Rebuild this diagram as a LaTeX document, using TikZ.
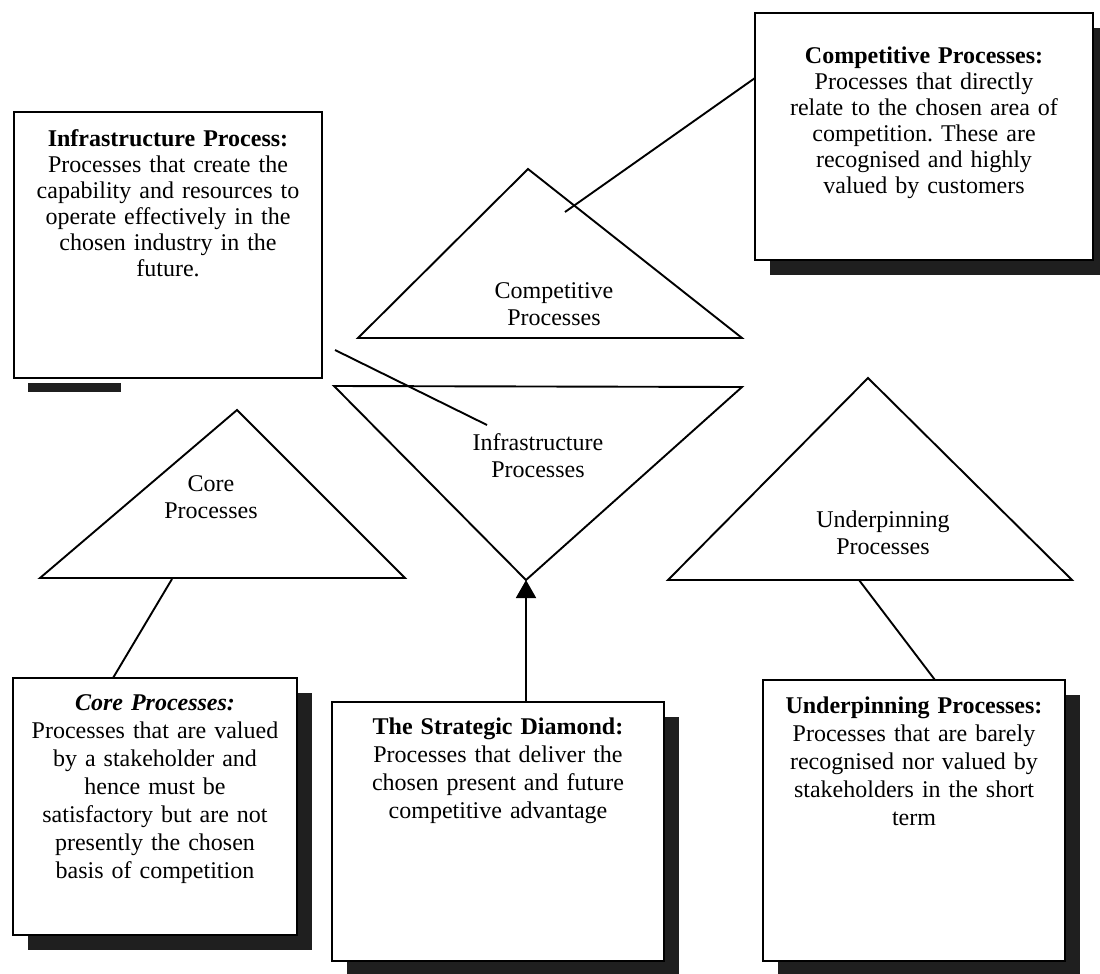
\documentclass[tikz,border=0pt]{standalone}
\usepackage{fontspec}
\setmainfont{Liberation Serif}
\usetikzlibrary{arrows.meta,shadows}
\frenchspacing

\tikzset{
  card/.style={draw=black, line width=1.7pt, fill=white, rectangle, inner sep=0pt,
    drop shadow={shadow xshift=15pt, shadow yshift=-15pt, fill=black!88, opacity=1}},
  plaincard/.style={draw=black, line width=1.7pt, fill=white, rectangle, inner sep=0pt},
  cardtext/.style={anchor=north, align=center, inner sep=0pt, text width=#1},
  toptext/.style={font=\fontsize{24}{26}\selectfont},
  lowtext/.style={font=\fontsize{24}{28}\selectfont},
  trilabel/.style={align=center, inner sep=0pt, font=\fontsize{24}{27}\selectfont},
  tri/.style={draw=black, line width=1.9pt, line join=miter},
  link/.style={draw=black, line width=1.9pt},
}

\begin{document}
\begin{tikzpicture}[x=1pt, y=-1pt]
  \useasboundingbox (0,0) rectangle (1100,974);

  % ---- triangles of the strategic diamond ----
  \coordinate (compA) at (528,169);
  \coordinate (compL) at (358,338);
  \coordinate (compR) at (742,338);
  \draw[tri] (compA) -- (compL) -- (compR) -- cycle;

  \coordinate (infL) at (334,386);
  \coordinate (infR) at (742,387);
  \coordinate (infV) at (526,580);
  \draw[tri] (infL) -- (infR) -- (infV) -- cycle;

  \coordinate (coreA) at (237,410);
  \coordinate (coreL) at (40,578);
  \coordinate (coreR) at (405,578);
  \draw[tri] (coreA) -- (coreL) -- (coreR) -- cycle;

  \coordinate (undA) at (868,378);
  \coordinate (undL) at (668,580);
  \coordinate (undR) at (1072,580);
  \draw[tri] (undA) -- (undL) -- (undR) -- cycle;

  \node[trilabel] (compLabel) at (554,304) {Competitive\\Processes};
  \node[trilabel] (infLabel)  at (538,456) {Infrastructure\\Processes};
  \node[trilabel] (coreLabel) at (211,497) {Core\\Processes};
  \node[trilabel] (undLabel)  at (883,533) {Underpinning\\Processes};

  % ---- description boxes ----
  \fill[black!88] (28,383) rectangle (121,392);
  \node[plaincard, minimum width=308pt, minimum height=266pt] (infBox) at (168,245) {};
  \node[card, minimum width=338pt, minimum height=247pt] (compBox) at (924,136.5) {};
  \node[card, minimum width=284pt, minimum height=257pt] (coreBox) at (155,806.5) {};
  \node[card, minimum width=332pt, minimum height=259pt] (stratBox) at (498,831.5) {};
  \node[card, minimum width=302pt, minimum height=281pt] (undBox) at (914,820.5) {};

  \node[cardtext=300pt, toptext] (infText) at (168,129)
    {\textbf{Infrastructure Process:}\\Processes that create the\\capability and resources to\\operate effectively in the\\chosen industry in the\\future.};
  \node[cardtext=330pt, toptext] (compText) at (924,47)
    {\textbf{Competitive Processes:}\\Processes that directly\\relate to the chosen area of\\competition. These are\\recognised and highly\\valued by customers};
  \node[cardtext=280pt, lowtext] (coreText) at (155,694)
    {\textbf{\textit{Core Processes:}}\\Processes that are valued\\by a stakeholder and\\hence must be\\satisfactory but are not\\presently the chosen\\basis of competition};
  \node[cardtext=328pt, lowtext] (stratText) at (498,718)
    {\textbf{The Strategic Diamond:}\\Processes that deliver the\\chosen present and future\\competitive advantage};
  \node[cardtext=298pt, lowtext] (undText) at (914,697)
    {\textbf{Underpinning Processes:}\\Processes that are barely\\recognised nor valued by\\stakeholders in the short\\term};

  % ---- connectors ----
  \coordinate (infStart) at (335,350);
  \coordinate (infEnd) at (487,425);
  \draw[link] (infStart) -- (infEnd);

  \coordinate (compStart) at (755,78);
  \coordinate (compEnd) at (565,212);
  \draw[link] (compStart) -- (compEnd);

  \coordinate (coreTop) at (172,579);
  \coordinate (coreBot) at (113,678);
  \draw[link] (coreTop) -- (coreBot);

  \coordinate (undTop) at (859,580);
  \coordinate (undBot) at (935,680);
  \draw[link] (undTop) -- (undBot);

  \coordinate (stratTop) at (526,702);
  \draw[link, -{Triangle[width=20pt,length=18pt]}] (stratTop) -- (infV);
\end{tikzpicture}
\end{document}
